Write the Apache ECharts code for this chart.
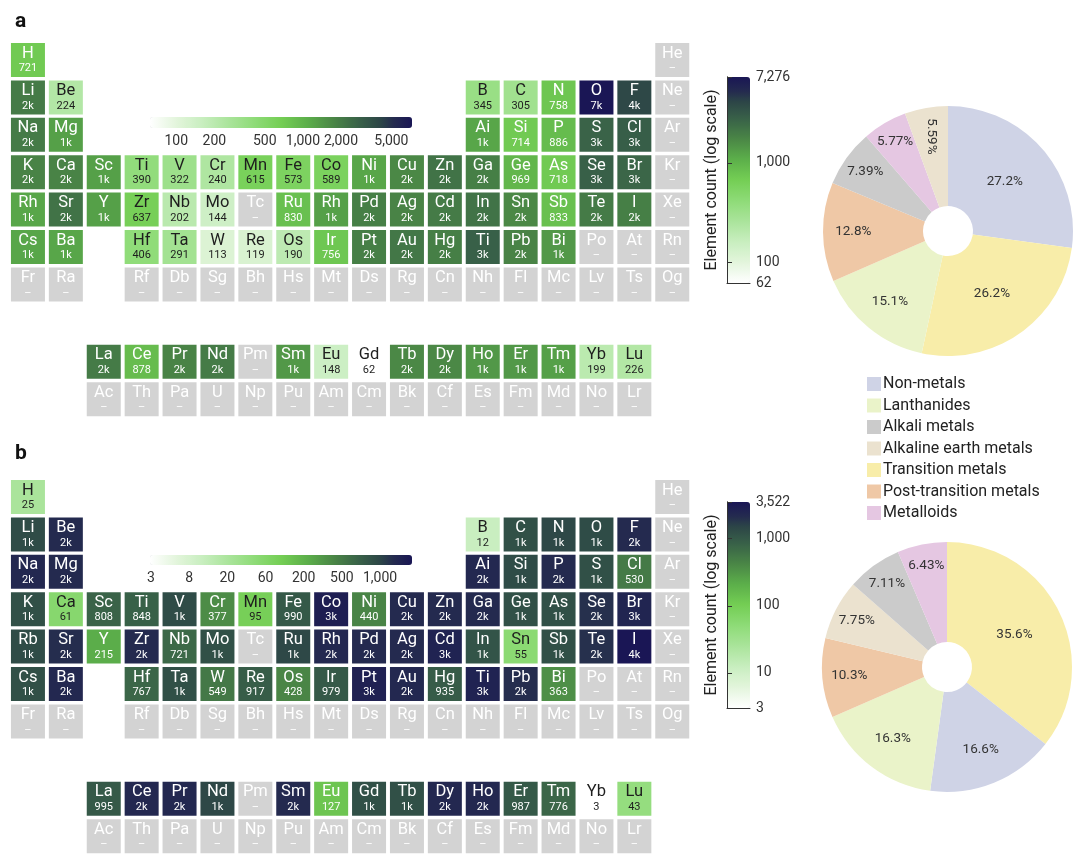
<!DOCTYPE html>
<html><head><meta charset="utf-8">
<script src="https://cdn.jsdelivr.net/npm/echarts@6/dist/echarts.min.js"></script>
<style>html,body{margin:0;padding:0;background:#fff}#c{width:1080px;height:859px}</style>
</head><body><div id="c"></div>
<script>
// ---- periodic-table layout ('.' = empty position) ----
const PERIODS = [
 'H . . . . . . . . . . . . . . . . He',
 'Li Be . . . . . . . . . . B C N O F Ne',
 'Na Mg . . . . . . . . . . Ai Si P S Cl Ar',
 'K Ca Sc Ti V Cr Mn Fe Co Ni Cu Zn Ga Ge As Se Br Kr',
 'Rb Sr Y Zr Nb Mo Tc Ru Rh Pd Ag Cd In Sn Sb Te I Xe',
 'Cs Ba . Hf Ta W Re Os Ir Pt Au Hg Ti Pb Bi Po At Rn',
 'Fr Ra . Rf Db Sg Bh Hs Mt Ds Rg Cn Nh Fl Mc Lv Ts Og',
 '. . La Ce Pr Nd Pm Sm Eu Gd Tb Dy Ho Er Tm Yb Lu .',
 '. . Ac Th Pa U Np Pu Am Cm Bk Cf Es Fm Md No Lr .'
];
const LABELS_A = {Rb: 'Rh'};   // symbol as printed in panel a
const LABELS_B = {};

// ---- element counts (null = no data) ----
const COUNTS_A = [
 [721, null],
 [2000, 224, 345, 305, 758, 7276, 3900, null],
 [2000, 1300, 1200, 714, 886, 2700, 2900, null],
 [1800, 1800, 1300, 390, 322, 240, 615, 573, 589, 1200, 1700, 2200, 1900, 969, 718, 2800, 2600, null],
 [1200, 2200, 1300, 637, 202, 144, null, 830, 1300, 1900, 1800, 2000, 2200, 1700, 833, 2000, 1900, null],
 [1200, 1200, 406, 291, 113, 119, 190, 756, 1900, 2100, 1900, 2800, 1800, 1400, null, null, null],
 [null, null, null, null, null, null, null, null, null, null, null, null, null, null, null, null, null],
 [2000, 878, 1800, 2000, null, 1400, 148, 62, 1700, 1700, 1400, 1400, 1300, 199, 226],
 [null, null, null, null, null, null, null, null, null, null, null, null, null, null, null]
];
const COUNTS_B = [
 [25, null],
 [1300, 2200, 12, 1200, 1400, 1300, 2200, null],
 [2300, 2200, 2300, 1300, 2200, 1200, 530, null],
 [1200, 61, 808, 848, 1300, 377, 95, 990, 2900, 440, 2200, 2200, 2200, 1200, 1200, 2000, 2500, null],
 [1300, 2100, 215, 2200, 721, 1200, null, 1400, 2300, 2200, 2200, 2600, 1100, 55, 1200, 2000, 3522, null],
 [1200, 2300, 767, 1200, 549, 917, 428, 979, 2700, 2300, 935, 2600, 2100, 363, null, null, null],
 [null, null, null, null, null, null, null, null, null, null, null, null, null, null, null, null, null],
 [995, 2300, 2300, 1400, null, 2200, 127, 1200, 1200, 2300, 2300, 987, 776, 3, 43],
 [null, null, null, null, null, null, null, null, null, null, null, null, null, null, null]
];
const RANGE_A = [62, 7276];
const RANGE_B = [3, 3522];
const BAR_TICKS_A = [62, 100, 1000, 7276];
const BAR_TICKS_B = [3, 10, 100, 1000, 3522];
const STRIP_TICKS_A = [100, 200, 500, 1000, 2000, 5000];   // placed on a log scale
const STRIP_TICKS_B = [3, 8, 20, 60, 200, 500, 1000];      // printed evenly spaced

// ---- pies ----
const CATEGORIES = ['Non-metals', 'Lanthanides', 'Alkali metals', 'Alkaline earth metals', 'Transition metals', 'Post-transition metals', 'Metalloids'];
const CAT_COLORS = ['#cfd3e6', '#eaf3c9', '#cbcbcb', '#ebe2cf', '#f8eda9', '#efc8a6', '#e5c7e2'];
const PIE_A_NAMES = ['Non-metals', 'Transition metals', 'Lanthanides', 'Post-transition metals', 'Alkali metals', 'Metalloids', 'Alkaline earth metals'];
const PIE_A_VALUES = [27.2, 26.2, 15.1, 12.8, 7.39, 5.77, 5.59];
const PIE_B_NAMES = ['Transition metals', 'Non-metals', 'Lanthanides', 'Post-transition metals', 'Alkaline earth metals', 'Alkali metals', 'Metalloids'];
const PIE_B_VALUES = [35.6, 16.6, 16.3, 10.3, 7.75, 7.11, 6.43];

// ---- styling ----
const FONT = 'Roboto';
const RAMP_STOPS = [
  [0.00, '#ffffff'], [0.10, '#e3f5dc'], [0.20, '#c8eebf'], [0.30, '#aae49b'], [0.40, '#8edb77'],
  [0.50, '#74ce54'], [0.60, '#5caf4a'], [0.70, '#4a8646'], [0.80, '#386048'], [0.88, '#2c4547'],
  [0.93, '#242b4f'], [1.00, '#1a1655']
];
function hex(c) { return [1, 3, 5].map(i => parseInt(c.slice(i, i + 2), 16)); }
function buildRamp(stops, n) {
  const out = [];
  for (let i = 0; i < n; i++) {
    const t = i / (n - 1);
    let k = 0;
    while (k < stops.length - 2 && t > stops[k + 1][0]) k++;
    const [t0, c0] = stops[k], [t1, c1] = stops[k + 1];
    const f = (t - t0) / (t1 - t0), a = hex(c0), b = hex(c1);
    out.push('rgb(' + a.map((v, j) => Math.round(v + (b[j] - v) * f)).join(',') + ')');
  }
  return out;
}
const RAMP = buildRamp(RAMP_STOPS, 101);
const GREY = '#d3d3d3';
const FBLOCK_SHIFT = 1.07;
const PITCH_X = 37.9, PITCH_Y = 37.4, CELL = 34;

const lg = Math.log10;
function fmtCount(v) { return v >= 1000 ? Math.round(v / 1000) + 'k' : String(v); }
function fmtTick(v) { return Math.round(Math.pow(10, v)).toLocaleString('en-US'); }

function buildCells(counts, labels, range) {
  const lo = lg(range[0]), hi = lg(range[1]);
  const valued = [], empty = [];
  PERIODS.forEach((row, r) => {
    let k = 0;
    row.split(' ').forEach((t, c) => {
      if (t === '.') return;
      const v = counts[r][k++];
      const y = r + 1 + (r >= 7 ? FBLOCK_SHIFT : 0);
      const sym = labels[t] || t;
      if (v == null) empty.push({value: [c + 1, y], sym: sym});
      else valued.push({value: [c + 1, y, lg(v), v], sym: sym, light: (lg(v) - lo) / (hi - lo) > 0.5});
    });
  });
  return {valued, empty};
}
const cellsA = buildCells(COUNTS_A, LABELS_A, RANGE_A);
const cellsB = buildCells(COUNTS_B, LABELS_B, RANGE_B);

const rich = {
  sw: {fontSize: 16.5, lineHeight: 17, color: '#fff', fontFamily: FONT},
  nw: {fontSize: 11, lineHeight: 13, color: '#fff', fontFamily: FONT},
  sd: {fontSize: 16.5, lineHeight: 17, color: '#1e1e1e', fontFamily: FONT},
  nd: {fontSize: 11, lineHeight: 13, color: '#1e1e1e', fontFamily: FONT}
};
function cellSeries(data, gi, grey) {
  return {
    type: 'scatter', xAxisIndex: gi, yAxisIndex: gi, symbol: 'rect', symbolSize: [CELL, CELL],
    data: data, silent: true, itemStyle: grey ? {color: GREY, opacity: 1} : {opacity: 1},
    label: {show: true, position: 'inside', rich: rich,
      formatter: p => {
        const d = p.data;
        if (grey) return '{sw|' + d.sym + '}\n{nw|–}';
        const w = d.light ? 'w' : 'd';
        return '{s' + w + '|' + d.sym + '}\n{n' + w + '|' + fmtCount(d.value[3]) + '}';
      }}
  };
}

const TABLE_TOP_A = 41.3, TABLE_TOP_B = 478.3, TABLE_LEFT = 9;
const tableRows = 9 + FBLOCK_SHIFT;
function tableGrid(top) { return {left: TABLE_LEFT, top: top, width: PITCH_X * 18, height: PITCH_Y * tableRows}; }
function hiddenX(gi, min, max) { return {type: 'value', gridIndex: gi, min: min, max: max, show: false}; }
function hiddenY(gi, min, max, inv) { return {type: 'value', gridIndex: gi, min: min, max: max, show: false, inverse: !!inv}; }

const axisTxt = {fontFamily: FONT, fontSize: 14, color: '#333'};
function barAxisRight(gi, range, ticks) {
  const vals = ticks.map(lg);
  return {type: 'value', gridIndex: gi, position: 'right', min: lg(range[0]), max: lg(range[1]), z: 10,
    splitLine: {show: false}, axisLine: {show: true, lineStyle: {color: '#333', width: 1}},
    axisTick: {show: true, customValues: vals, length: 5, lineStyle: {color: '#333'}},
    axisLabel: Object.assign({show: true, customValues: vals, margin: 6, formatter: fmtTick,
      showMinLabel: true, showMaxLabel: true}, axisTxt)};
}
function barAxisLeft(gi, range) {
  return {type: 'value', gridIndex: gi, position: 'left', min: lg(range[0]), max: lg(range[1]), z: 10,
    name: 'Element count (log scale)', nameLocation: 'middle', nameRotate: 90, nameGap: 7,
    nameTextStyle: {fontFamily: FONT, fontSize: 16, color: '#222'},
    splitLine: {show: false}, axisLine: {show: true, lineStyle: {color: '#333', width: 1}},
    axisTick: {show: false}, axisLabel: {show: false}};
}
function barAxisBottom(gi) {
  return {type: 'value', gridIndex: gi, min: 0, max: 1, z: 10, splitLine: {show: false},
    axisLine: {show: true, lineStyle: {color: '#333', width: 1}}, axisTick: {show: false}, axisLabel: {show: false}};
}
function stripAxisLog(gi, range, ticks) {
  const vals = ticks.map(lg);
  return {type: 'value', gridIndex: gi, min: lg(range[0]), max: lg(range[1]), splitLine: {show: false},
    axisLine: {show: false}, axisTick: {show: false},
    axisLabel: Object.assign({show: true, customValues: vals, margin: 6, formatter: fmtTick,
      showMinLabel: true, showMaxLabel: true, hideOverlap: false}, axisTxt)};
}
function stripAxisEven(gi, ticks) {
  return {type: 'category', gridIndex: gi, data: ticks.map(String), boundaryGap: true,
    axisLine: {show: false}, axisTick: {show: false}, splitLine: {show: false},
    axisLabel: Object.assign({show: true, interval: 0, margin: 6,
      formatter: v => Number(v).toLocaleString('en-US')}, axisTxt)};
}

function vm(si, range, orient, left, top, w, h) {
  return {type: 'continuous', seriesIndex: si, dimension: 2, min: lg(range[0]), max: lg(range[1]),
    orient: orient, left: left, top: top, itemWidth: w, itemHeight: h, calculable: false, padding: 0,
    text: null, hoverLink: false, inRange: {color: RAMP}};
}

const PIE_R = [25, 125];
const PIE_A_CENTER = [948, 231], PIE_B_CENTER = [947, 667];
function pieSeries(names, values, center, rotatedIdx) {
  const total = values.reduce((a, b) => a + b, 0);
  const mids = [];
  let cum = 0;
  values.forEach(v => { mids.push((90 - (cum + v / 2) / total * 360) * Math.PI / 180); cum += v; });
  return {
    type: 'pie', center: center, radius: PIE_R, startAngle: 90, clockwise: true, silent: true,
    data: names.map((n, i) => {
      const it = {name: n, value: values[i], itemStyle: {color: CAT_COLORS[CATEGORIES.indexOf(n)]}};
      if (i === rotatedIdx) it.label = {rotate: -90};
      return it;
    }),
    label: {show: true, position: 'inside', formatter: p => p.value + '%', fontFamily: FONT, fontSize: 13.5, color: '#333'},
    labelLine: {show: false},
    labelLayout: p => {
      const i = p.dataIndex, v = values[i];
      const r = i === rotatedIdx ? 96 : Math.max(75, 112 - 1.35 * v);
      return {x: center[0] + r * Math.cos(mids[i]), y: center[1] - r * Math.sin(mids[i]), align: 'center', verticalAlign: 'middle'};
    }
  };
}

const STRIP_B_BAND = 38.17;
const option = {
  animation: false,
  backgroundColor: '#fff',
  textStyle: {fontFamily: FONT},
  title: [
    {text: 'a', left: 10, top: 6, textStyle: {fontFamily: FONT, fontSize: 21, fontWeight: 'bold', color: '#111'}},
    {text: 'b', left: 10, top: 438, textStyle: {fontFamily: FONT, fontSize: 21, fontWeight: 'bold', color: '#111'}}
  ],
  grid: [
    tableGrid(TABLE_TOP_A), tableGrid(TABLE_TOP_B),
    {left: 727, top: 77, width: 23, height: 206},
    {left: 727, top: 502, width: 23, height: 206},
    {left: 150, top: 117, width: 262, height: 11},
    {left: 151 - STRIP_B_BAND / 2, top: 555, width: STRIP_B_BAND * STRIP_TICKS_B.length, height: 10}
  ],
  xAxis: [
    hiddenX(0, 0.5, 18.5), hiddenX(1, 0.5, 18.5),
    barAxisBottom(2), barAxisBottom(3),
    stripAxisLog(4, RANGE_A, STRIP_TICKS_A), stripAxisEven(5, STRIP_TICKS_B)
  ],
  yAxis: [
    hiddenY(0, 0.5, 0.5 + tableRows, true), hiddenY(1, 0.5, 0.5 + tableRows, true),
    barAxisRight(2, RANGE_A, BAR_TICKS_A), barAxisLeft(2, RANGE_A),
    barAxisRight(3, RANGE_B, BAR_TICKS_B), barAxisLeft(3, RANGE_B),
    hiddenY(4, 0, 1), hiddenY(5, 0, 1)
  ],
  visualMap: [
    vm(0, RANGE_A, 'vertical', 727, 77, 23, 206),
    vm(0, RANGE_A, 'horizontal', 150, 117, 11, 262),
    vm(2, RANGE_B, 'vertical', 727, 502, 23, 206),
    vm(2, RANGE_B, 'horizontal', 150, 555, 10, 262)
  ],
  legend: {
    orient: 'vertical', left: 862, top: 371, itemWidth: 14, itemHeight: 14, itemGap: 5.5, icon: 'rect',
    selectedMode: false, data: CATEGORIES,
    textStyle: {fontFamily: FONT, fontSize: 16, color: '#222', padding: [0, 0, 0, -3]}
  },
  series: [
    cellSeries(cellsA.valued, 0, false), cellSeries(cellsA.empty, 0, true),
    cellSeries(cellsB.valued, 1, false), cellSeries(cellsB.empty, 1, true),
    pieSeries(PIE_A_NAMES, PIE_A_VALUES, PIE_A_CENTER, 6),
    pieSeries(PIE_B_NAMES, PIE_B_VALUES, PIE_B_CENTER, -1)
  ]
};
const chart = echarts.init(document.getElementById('c'), null, {renderer: 'canvas'});
chart.setOption(option);
</script></body></html>
